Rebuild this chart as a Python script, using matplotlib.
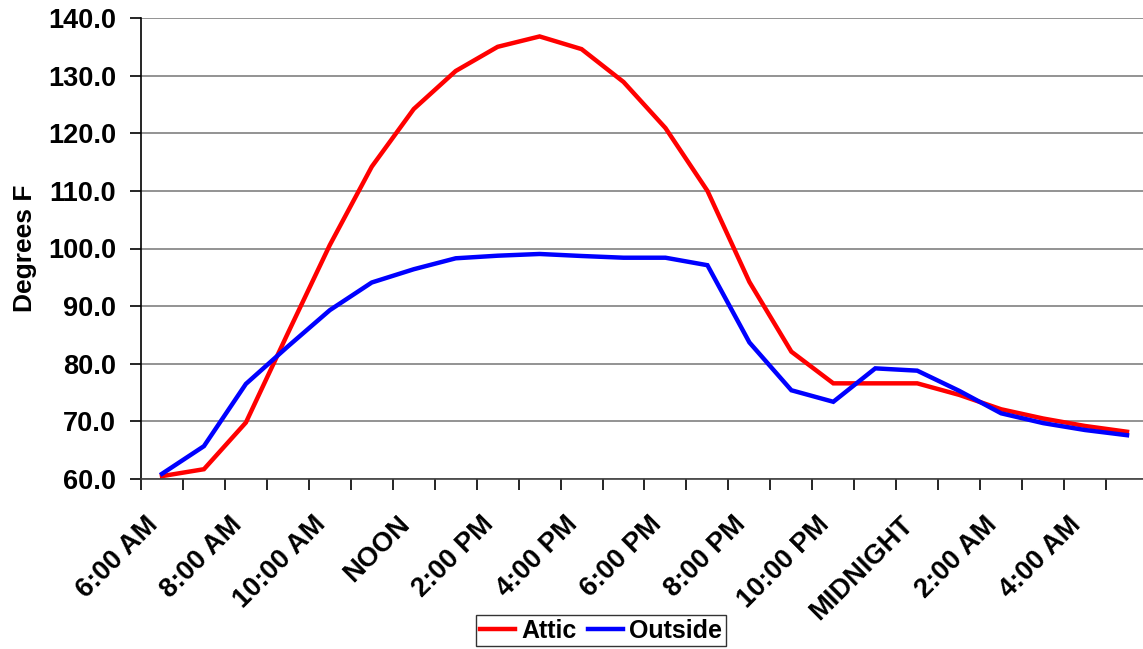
import matplotlib.pyplot as plt
import matplotlib.transforms as mtransforms
import numpy as np

plt.rcParams['font.family'] = ['Liberation Sans', 'DejaVu Sans']
plt.rcParams['font.weight'] = 'bold'

# hourly readings, 6:00 AM through 5:00 AM
hours = list(range(24))
attic = [60.5, 61.7, 69.8, 85.3, 100.6, 114.2, 124.2, 130.8, 135.0, 136.8,
         134.6, 128.9, 120.9, 110.0, 94.2, 82.1, 76.6, 76.6, 76.6, 74.6,
         72.1, 70.5, 69.2, 68.2]
outside = [60.9, 65.7, 76.5, 83.0, 89.3, 94.1, 96.4, 98.3, 98.75, 99.05,
           98.7, 98.4, 98.4, 97.1, 83.7, 75.4, 73.4, 79.2, 78.8, 75.3,
           71.4, 69.7, 68.5, 67.6]
tick_labels = ['6:00 AM', '8:00 AM', '10:00 AM', 'NOON', '2:00 PM', '4:00 PM',
               '6:00 PM', '8:00 PM', '10:00 PM', 'MIDNIGHT', '2:00 AM', '4:00 AM']

fig = plt.figure(figsize=(11.43, 6.49), dpi=100)
ax = fig.add_axes([141/1143, 1 - 479/649, 1007/1143, 461/649])

ax.plot(hours, attic, color='#ff0000', lw=3.2, label='Attic', solid_joinstyle='miter')
ax.plot(hours, outside, color='#0000ff', lw=3.2, label='Outside', solid_joinstyle='miter')

ax.set_xlim(-0.5, 23.5)
ax.set_ylim(60, 140)
ax.set_yticks(np.arange(60, 141, 10))
ax.set_yticklabels([f'{v:.1f}' for v in range(60, 141, 10)])
ax.yaxis.grid(True, color='#808080', lw=1.2)
ax.set_axisbelow(True)

# labels every other hour, tick marks between categories
ax.set_xticks(hours[::2])
ax.set_xticklabels(tick_labels, rotation=45, ha='right', va='center',
                   rotation_mode='anchor')
ax.set_xticks(np.arange(-0.5, 24, 1), minor=True)
ax.tick_params(axis='x', which='major', length=0, pad=30, labelsize=19.5)
ax.tick_params(axis='x', which='minor', length=8, width=1.2, color='black')
ax.tick_params(axis='y', length=8, width=1.2, pad=10, labelsize=19.5)

shift = mtransforms.ScaledTranslation(-8/100, 0, fig.dpi_scale_trans)
for lab in ax.get_xticklabels():
    lab.set_transform(lab.get_transform() + shift)

for side in ['top', 'right']:
    ax.spines[side].set_visible(False)
ax.spines['left'].set_linewidth(1.2)
ax.spines['bottom'].set_linewidth(1.2)
ax.spines['bottom'].set_color('#404040')

ax.set_ylabel('Degrees F', fontsize=19, fontweight='bold')
ax.yaxis.set_label_coords(-0.103, 0.5)

fig.legend(loc='center', bbox_to_anchor=(601/1143, 1 - 630.5/649), ncol=2,
           frameon=True, fancybox=False, edgecolor='black', fontsize=18,
           handlelength=1.4, handletextpad=0.25, columnspacing=0.45,
           borderpad=0.15, borderaxespad=0).get_frame().set_linewidth(1.0)

fig.savefig('out.png', dpi=100)
